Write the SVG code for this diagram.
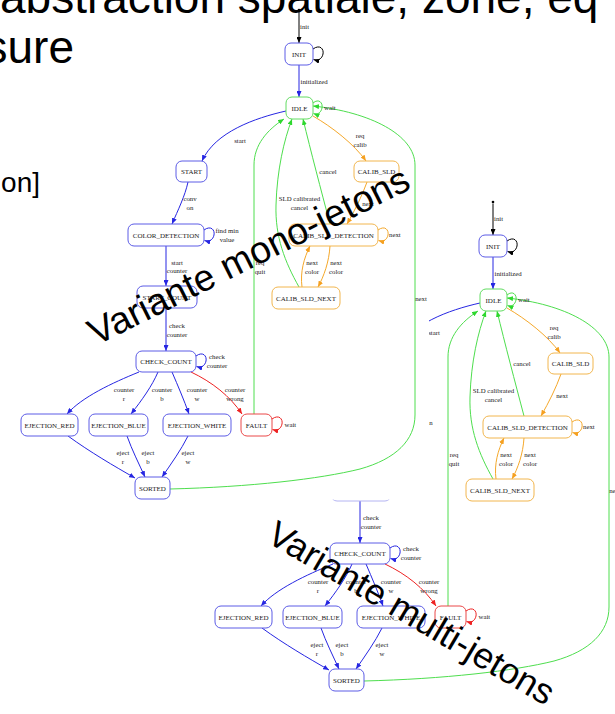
<svg xmlns="http://www.w3.org/2000/svg" width="615" height="714" viewBox="0 0 615 714">
<style>
.n rect{fill:#fff;stroke-width:1}
.nb rect{stroke:#5c5ce6}
.ng rect{stroke:#62dc62}
.no rect{stroke:#f2b64e}
.nr rect{stroke:#ea4848}
.n text{font-family:"Liberation Serif","Times New Roman",serif;font-size:7px;fill:#1a1a1a;text-anchor:middle}
.e{fill:none;stroke-width:1}
.ek{stroke:#000;marker-end:url(#mk)}
.eb{stroke:#2626e2;marker-end:url(#mb)}
.eg{stroke:#4ede4e;marker-end:url(#mg)}
.eo{stroke:#f5a82a;marker-end:url(#mo)}
.er{stroke:#ee2222;marker-end:url(#mr)}
.lb,.ls{font-family:"Liberation Serif","Times New Roman",serif;font-size:6.8px;fill:#1a1a1a}
.lb{text-anchor:middle}
.ls{text-anchor:start}
.big{font-family:"Liberation Sans",Arial,sans-serif;fill:#000}
</style>
<defs>
<marker id="mk" viewBox="0 0 6 5" refX="6" refY="2.5" markerWidth="6" markerHeight="5" markerUnits="userSpaceOnUse" orient="auto"><path d="M0,0 L6,2.5 L0,5 z" fill="#000"/></marker>
<marker id="mb" viewBox="0 0 6 5" refX="6" refY="2.5" markerWidth="6" markerHeight="5" markerUnits="userSpaceOnUse" orient="auto"><path d="M0,0 L6,2.5 L0,5 z" fill="#2626e2"/></marker>
<marker id="mg" viewBox="0 0 6 5" refX="6" refY="2.5" markerWidth="6" markerHeight="5" markerUnits="userSpaceOnUse" orient="auto"><path d="M0,0 L6,2.5 L0,5 z" fill="#2ed82e"/></marker>
<marker id="mo" viewBox="0 0 6 5" refX="6" refY="2.5" markerWidth="6" markerHeight="5" markerUnits="userSpaceOnUse" orient="auto"><path d="M0,0 L6,2.5 L0,5 z" fill="#f5a020"/></marker>
<marker id="mr" viewBox="0 0 6 5" refX="6" refY="2.5" markerWidth="6" markerHeight="5" markerUnits="userSpaceOnUse" orient="auto"><path d="M0,0 L6,2.5 L0,5 z" fill="#ee2222"/></marker>
</defs>
<rect width="615" height="714" fill="#fff"/>

<!-- multi-token variant (drawn first, partly covered by the mono-token graph) -->
<g id="multi" transform="translate(194,192)">
  <g id="b-edges">
    <circle cx="299" cy="10" r="1.3" fill="#000"/>
    <path class="e ek" d="M299,11.5 L299,43"/>
    <path class="e ek" d="M313,49 C320,44 324,49 323,54 C322,59 318,61 313.5,59.5"/>
    <path class="e eb" d="M299,65 L299,97"/>
    <path class="e eg" d="M313,103 C319,98 323,103 322,108 C321,113 317,115 313.5,113.5"/>
    <path class="e eb" d="M286,111 C255,118 215,132 202,161"/>
    <path class="e eb" d="M166,308 L166,351"/>
    <path class="e eb" d="M196,356 C203,351 207,356 206,361 C205,366 201,368 196.5,366.5"/>
    <path class="e eb" d="M139,372 C112,383 82,397 67,414"/>
    <path class="e eb" d="M158,372 C152,386 142,400 131,414"/>
    <path class="e eb" d="M172,372 C178,386 184,400 189,414"/>
    <path class="e er" d="M191,372 C212,382 230,396 242,414"/>
    <path class="e er" d="M272,419 C279,414 283,419 282,424 C281,429 277,431 272.5,429.5"/>
    <path class="e eb" d="M68,436 C90,452 114,466 135,478"/>
    <path class="e eb" d="M127,436 C132,450 139,464 145,477"/>
    <path class="e eb" d="M188,436 C181,450 171,464 162,477"/>
    <path class="e eg" d="M170,489 C250,487 320,479 360,469 C396,459 415,440 415,415 L415,165 C415,135 370,112 313,106"/>
    <path class="e eg" d="M254,414 L254,165 C254,145 267,130 284,119"/>
    <path class="e eg" d="M299,287 C285,262 275,237 276,205 C277,170 284,140 292,119"/>
    <path class="e eg" d="M330,224 C321,190 311,152 303,119"/>
    <path class="e eo" d="M313,116 C332,127 354,144 366,161"/>
    <path class="e eo" d="M367,182 C362,196 355,210 347,224"/>
    <path class="e eo" d="M378,230 C385,225 389,230 388,235 C387,240 383,242 378.5,240.5"/>
    <path class="e eo" d="M330,246 C329,262 324,276 318,287"/>
    <path class="e eo" d="M302,287 C300,272 304,258 310,246"/>
    <text class="ls" x="300" y="29">init</text>
    <text class="ls" x="300.5" y="84">initialized</text>
    <text class="ls" x="324" y="110">wait</text>
    <text class="lb" x="240" y="143">start</text>
    <text class="lb" x="227" y="233">find min</text>
    <text class="lb"><tspan x="177" y="327.5">check</tspan><tspan x="177" y="336.5">counter</tspan></text>
    <text class="lb"><tspan x="217" y="359">check</tspan><tspan x="217" y="368">counter</tspan></text>
    <text class="lb"><tspan x="124" y="391.5">counter</tspan><tspan x="124" y="400.5">r</tspan></text>
    <text class="lb"><tspan x="162" y="391.5">counter</tspan><tspan x="162" y="400.5">b</tspan></text>
    <text class="lb"><tspan x="197" y="391.5">counter</tspan><tspan x="197" y="400.5">w</tspan></text>
    <text class="lb"><tspan x="235" y="391.5">counter</tspan><tspan x="235" y="400.5">wrong</tspan></text>
    <text class="ls" x="284.5" y="427">wait</text>
    <text class="lb"><tspan x="123" y="454.5">eject</tspan><tspan x="123" y="463.5">r</tspan></text>
    <text class="lb"><tspan x="148" y="454.5">eject</tspan><tspan x="148" y="463.5">b</tspan></text>
    <text class="lb"><tspan x="188" y="454.5">eject</tspan><tspan x="188" y="463.5">w</tspan></text>
    <text class="lb" x="421" y="300.5">next</text>
    <text class="lb"><tspan x="260" y="264.5">req</tspan><tspan x="260" y="273.5">quit</tspan></text>
    <text class="lb"><tspan x="299.5" y="200.5">SLD calibrated</tspan><tspan x="299.5" y="209.5">cancel</tspan></text>
    <text class="lb" x="328" y="173.5">cancel</text>
    <text class="lb"><tspan x="360" y="137.5">req</tspan><tspan x="360" y="146.5">calib</tspan></text>
    <text class="lb" x="368" y="205.5">next</text>
    <text class="ls" x="389" y="237">next</text>
    <text class="lb"><tspan x="336" y="264.5">next</tspan><tspan x="336" y="273.5">color</tspan></text>
    <text class="lb"><tspan x="312" y="264.5">next</tspan><tspan x="312" y="273.5">color</tspan></text>
  </g>
  <g id="b-init" class="n nb"><rect x="285" y="43" width="28" height="22" rx="6"/><text x="299" y="56.5">INIT</text></g>
  <g id="b-idle" class="n ng"><rect x="286" y="97" width="27" height="22" rx="6"/><text x="299.5" y="110.5">IDLE</text></g>
  <g id="b-start-count" class="n nb"><rect x="137" y="287" width="60" height="22" rx="6" style="stroke:#b4b4f2"/></g>
  <g id="b-check-count" class="n nb"><rect x="136" y="351" width="60" height="21" rx="6"/><text x="166" y="364">CHECK_COUNT</text></g>
  <g id="b-ejection-red" class="n nb"><rect x="21" y="414" width="57" height="22" rx="6"/><text x="49.5" y="427.5">EJECTION_RED</text></g>
  <g id="b-ejection-blue" class="n nb"><rect x="89" y="414" width="59" height="22" rx="6"/><text x="118.5" y="427.5">EJECTION_BLUE</text></g>
  <g id="b-ejection-white" class="n nb"><rect x="163" y="414" width="68" height="22" rx="6"/><text x="197" y="427.5">EJECTION_WHITE</text></g>
  <g id="b-fault" class="n nr"><rect x="241" y="414" width="31" height="22" rx="6"/><text x="256.5" y="427.5">FAULT</text></g>
  <g id="b-sorted" class="n nb"><rect x="135" y="477" width="35" height="22" rx="6"/><text x="152.5" y="490.5">SORTED</text></g>
  <g id="b-calib-sld" class="n no"><rect x="354" y="161" width="45" height="21" rx="6"/><text x="376.5" y="174">CALIB_SLD</text></g>
  <g id="b-calib-sld-detection" class="n no"><rect x="289" y="224" width="89" height="22" rx="6"/><text x="333.5" y="237.5">CALIB_SLD_DETECTION</text></g>
  <g id="b-calib-sld-next" class="n no"><rect x="272" y="287" width="68" height="22" rx="6"/><text x="306" y="300.5">CALIB_SLD_NEXT</text></g>
</g>

<!-- backdrop of the mono-token graph -->
<rect x="0" y="0" width="429" height="499.5" fill="#fff"/>

<!-- mono-token variant -->
<g id="mono">
  <g id="a-edges">
    <circle cx="299" cy="10" r="1.3" fill="#000"/>
    <path class="e ek" d="M299,11.5 L299,43"/>
    <path class="e ek" d="M313,49 C320,44 324,49 323,54 C322,59 318,61 313.5,59.5"/>
    <path class="e eb" d="M299,65 L299,97"/>
    <path class="e eg" d="M313,103 C319,98 323,103 322,108 C321,113 317,115 313.5,113.5"/>
    <path class="e eb" d="M286,111 C255,118 215,132 202,161"/>
    <path class="e eb" d="M188,182 C185,196 178,210 172,224"/>
    <path class="e eb" d="M204,230 C211,225 215,230 214,235 C213,240 209,242 204.5,240.5"/>
    <path class="e eb" d="M166,246 L166,286"/>
    <path class="e eb" d="M166,308 L166,351"/>
    <path class="e eb" d="M196,356 C203,351 207,356 206,361 C205,366 201,368 196.5,366.5"/>
    <path class="e eb" d="M139,372 C112,383 82,397 67,414"/>
    <path class="e eb" d="M158,372 C152,386 142,400 131,414"/>
    <path class="e eb" d="M172,372 C178,386 184,400 189,414"/>
    <path class="e er" d="M191,372 C212,382 230,396 242,414"/>
    <path class="e er" d="M272,419 C279,414 283,419 282,424 C281,429 277,431 272.5,429.5"/>
    <path class="e eb" d="M68,436 C90,452 114,466 135,478"/>
    <path class="e eb" d="M127,436 C132,450 139,464 145,477"/>
    <path class="e eb" d="M188,436 C181,450 171,464 162,477"/>
    <path class="e eg" d="M170,489 C250,487 320,479 360,469 C396,459 415,440 415,415 L415,165 C415,135 370,112 313,106"/>
    <path class="e eg" d="M254,414 L254,165 C254,145 267,130 284,119"/>
    <path class="e eg" d="M299,287 C285,262 275,237 276,205 C277,170 284,140 292,119"/>
    <path class="e eg" d="M330,224 C321,190 311,152 303,119"/>
    <path class="e eo" d="M313,116 C332,127 354,144 366,161"/>
    <path class="e eo" d="M367,182 C362,196 355,210 347,224"/>
    <path class="e eo" d="M378,230 C385,225 389,230 388,235 C387,240 383,242 378.5,240.5"/>
    <path class="e eo" d="M330,246 C329,262 324,276 318,287"/>
    <path class="e eo" d="M302,287 C300,272 304,258 310,246"/>
    <text class="ls" x="300" y="29">init</text>
    <text class="ls" x="300.5" y="84">initialized</text>
    <text class="ls" x="324" y="110">wait</text>
    <text class="lb" x="240" y="143">start</text>
    <text class="lb"><tspan x="190" y="201">conv</tspan><tspan x="190" y="209.5">on</tspan></text>
    <text class="lb"><tspan x="227" y="233">find min</tspan><tspan x="227" y="241.5">value</tspan></text>
    <text class="lb"><tspan x="177" y="264.5">start</tspan><tspan x="177" y="273">counter</tspan></text>
    <text class="lb"><tspan x="177" y="327.5">check</tspan><tspan x="177" y="336.5">counter</tspan></text>
    <text class="lb"><tspan x="217" y="359">check</tspan><tspan x="217" y="368">counter</tspan></text>
    <text class="lb"><tspan x="124" y="391.5">counter</tspan><tspan x="124" y="400.5">r</tspan></text>
    <text class="lb"><tspan x="162" y="391.5">counter</tspan><tspan x="162" y="400.5">b</tspan></text>
    <text class="lb"><tspan x="197" y="391.5">counter</tspan><tspan x="197" y="400.5">w</tspan></text>
    <text class="lb"><tspan x="235" y="391.5">counter</tspan><tspan x="235" y="400.5">wrong</tspan></text>
    <text class="ls" x="284.5" y="427">wait</text>
    <text class="lb"><tspan x="123" y="454.5">eject</tspan><tspan x="123" y="463.5">r</tspan></text>
    <text class="lb"><tspan x="148" y="454.5">eject</tspan><tspan x="148" y="463.5">b</tspan></text>
    <text class="lb"><tspan x="188" y="454.5">eject</tspan><tspan x="188" y="463.5">w</tspan></text>
    <text class="lb" x="421" y="300.5">next</text>
    <text class="lb"><tspan x="260" y="264.5">req</tspan><tspan x="260" y="273.5">quit</tspan></text>
    <text class="lb"><tspan x="299.5" y="200.5">SLD calibrated</tspan><tspan x="299.5" y="209.5">cancel</tspan></text>
    <text class="lb" x="328" y="173.5">cancel</text>
    <text class="lb"><tspan x="360" y="137.5">req</tspan><tspan x="360" y="146.5">calib</tspan></text>
    <text class="lb" x="368" y="205.5">next</text>
    <text class="ls" x="389" y="237">next</text>
    <text class="lb"><tspan x="336" y="264.5">next</tspan><tspan x="336" y="273.5">color</tspan></text>
    <text class="lb"><tspan x="312" y="264.5">next</tspan><tspan x="312" y="273.5">color</tspan></text>
  </g>
  <g id="a-init" class="n nb"><rect x="285" y="43" width="28" height="22" rx="6"/><text x="299" y="56.5">INIT</text></g>
  <g id="a-idle" class="n ng"><rect x="286" y="97" width="27" height="22" rx="6"/><text x="299.5" y="110.5">IDLE</text></g>
  <g id="a-start" class="n nb"><rect x="176" y="161" width="31" height="21" rx="6"/><text x="191.5" y="174">START</text></g>
  <g id="a-color-detection" class="n nb"><rect x="128" y="224" width="76" height="22" rx="6"/><text x="166" y="237.5">COLOR_DETECTION</text></g>
  <g id="a-start-count" class="n nb"><rect x="137" y="286" width="60" height="22" rx="6"/><text x="167" y="299.5">START_COUNT</text></g>
  <g id="a-check-count" class="n nb"><rect x="136" y="351" width="60" height="21" rx="6"/><text x="166" y="364">CHECK_COUNT</text></g>
  <g id="a-ejection-red" class="n nb"><rect x="21" y="414" width="57" height="22" rx="6"/><text x="49.5" y="427.5">EJECTION_RED</text></g>
  <g id="a-ejection-blue" class="n nb"><rect x="89" y="414" width="59" height="22" rx="6"/><text x="118.5" y="427.5">EJECTION_BLUE</text></g>
  <g id="a-ejection-white" class="n nb"><rect x="163" y="414" width="68" height="22" rx="6"/><text x="197" y="427.5">EJECTION_WHITE</text></g>
  <g id="a-fault" class="n nr"><rect x="241" y="414" width="31" height="22" rx="6"/><text x="256.5" y="427.5">FAULT</text></g>
  <g id="a-sorted" class="n nb"><rect x="135" y="477" width="35" height="22" rx="6"/><text x="152.5" y="490.5">SORTED</text></g>
  <g id="a-calib-sld" class="n no"><rect x="354" y="161" width="45" height="21" rx="6"/><text x="376.5" y="174">CALIB_SLD</text></g>
  <g id="a-calib-sld-detection" class="n no"><rect x="289" y="224" width="89" height="22" rx="6"/><text x="333.5" y="237.5">CALIB_SLD_DETECTION</text></g>
  <g id="a-calib-sld-next" class="n no"><rect x="272" y="287" width="68" height="22" rx="6"/><text x="306" y="300.5">CALIB_SLD_NEXT</text></g>
</g>

<!-- slide text -->
<text class="big" x="0" y="13" font-size="46">abstraction spatiale, zone, éq</text>
<text class="big" x="74" y="63" font-size="46" text-anchor="end">sure</text>
<text class="big" x="40" y="192" font-size="28" text-anchor="end">on]</text>
<text class="big" x="96" y="346" font-size="37.5" transform="rotate(-26.5 96 346)">Variante mono-jetons</text>
<text class="big" x="265" y="541" font-size="36" transform="rotate(30.5 265 541)">Variante multi-jetons</text>
</svg>
